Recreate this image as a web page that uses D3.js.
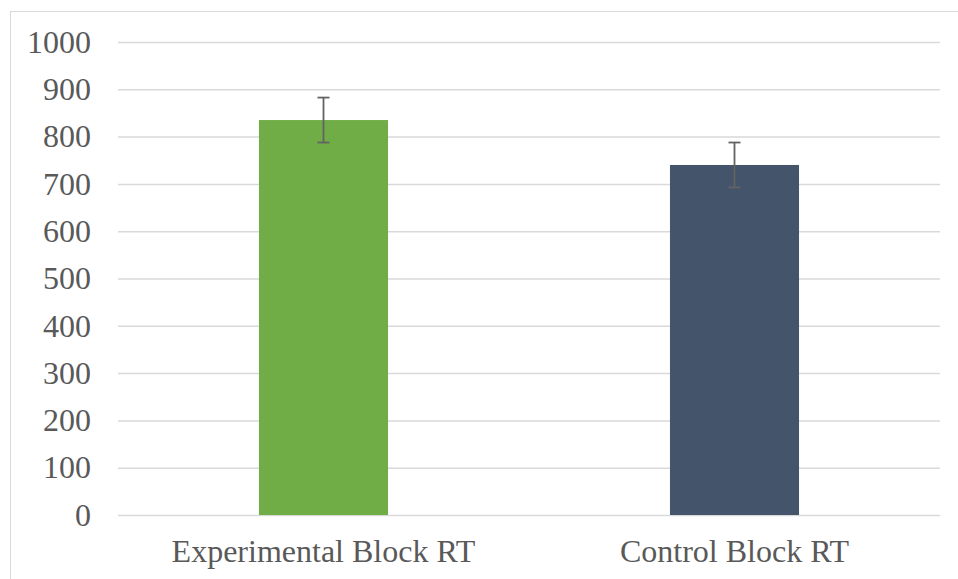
<!DOCTYPE html>
<html><head><meta charset="utf-8">
<script src="https://cdn.jsdelivr.net/npm/d3@7"></script>
<style>body{margin:0;background:#fff}svg{display:block}</style>
</head><body>
<script>
const categories = ["Experimental Block RT", "Control Block RT"];
const values = [835, 740];
const errors = [47.5, 47.5];
const colors = ["#70AD47", "#44546A"];
const yTicks = [0,100,200,300,400,500,600,700,800,900,1000];

(function(){
const W = 958, H = 579;
const FONT = "'Liberation Serif', 'Times New Roman', serif";
const FS = "32px";
const svg = d3.select("body").append("svg").attr("width", W).attr("height", H);
svg.append("rect").attr("x",10.5).attr("y",11.5).attr("width",W).attr("height",H)
  .attr("fill","#fff").attr("stroke","#d9d9d9").attr("stroke-width",1);

const mLeft = 118, mRight = 940, mTop = 42, mBottom = 515;
const y = d3.scaleLinear().domain([0,1000]).range([mBottom, mTop]);
const x = d3.scaleBand().domain(categories).range([mLeft, mRight]).padding(0);
const barW = x.bandwidth() * 0.314;

const yAxis = d3.axisLeft(y).tickValues(yTicks).tickFormat(d3.format("d")).tickSize(-(mRight-mLeft)).tickPadding(27);
const g = svg.append("g").attr("transform", `translate(${mLeft},0)`).call(yAxis)
  .attr("font-family", FONT);
g.select(".domain").remove();
g.selectAll(".tick line").attr("stroke","#d9d9d9").attr("stroke-width",1.5);
g.selectAll(".tick text").attr("fill","#595959").style("font-family",FONT).style("font-size",FS);

svg.selectAll("rect.bar").data(categories).enter().append("rect").attr("class","bar")
  .attr("x", d => x(d) + x.bandwidth()/2 - barW/2)
  .attr("width", barW)
  .attr("y", (d,i) => y(values[i]))
  .attr("height", (d,i) => y(0) - y(values[i]))
  .attr("fill", (d,i) => colors[i]);

const eb = svg.append("g").attr("stroke","#636363").attr("stroke-width",1.8);
categories.forEach((d,i) => {
  const cx = x(d) + x.bandwidth()/2;
  const y1 = y(values[i]+errors[i]), y2 = y(values[i]-errors[i]);
  eb.append("line").attr("x1",cx).attr("x2",cx).attr("y1",y1).attr("y2",y2);
  eb.append("line").attr("x1",cx-6).attr("x2",cx+6).attr("y1",y1).attr("y2",y1);
  eb.append("line").attr("x1",cx-6).attr("x2",cx+6).attr("y1",y2).attr("y2",y2);
});

const xAxis = d3.axisBottom(x).tickSize(0).tickPadding(24);
const gx = svg.append("g").attr("transform",`translate(0,${mBottom})`).call(xAxis)
  .attr("font-family", FONT);
gx.select(".domain").remove();
gx.selectAll(".tick text").attr("fill","#595959").style("font-family",FONT).style("font-size",FS);
})();
</script>
</body></html>
